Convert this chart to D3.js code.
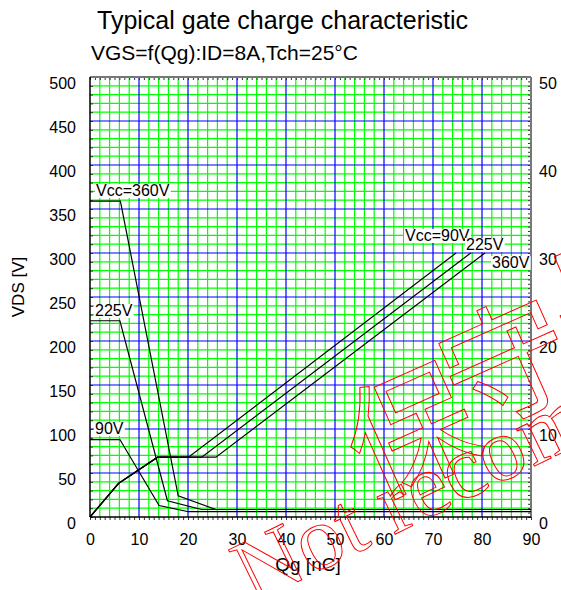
<!DOCTYPE html>
<html>
<head>
<meta charset="utf-8">
<script src="https://cdn.jsdelivr.net/npm/d3@7"></script>
<style>
body{margin:0;background:#fff}
svg{display:block}
</style>
</head>
<body>
<svg id="chart"></svg>
<script>
// VDS curves (left axis, V) vs Qg (nC)
var qgVds90 = [0, 6.1, 14.1, 20.1, 90];
var vds90 = [88, 88, 13, 6, 6];
var qgVds225 = [0, 6.1, 15.8, 22.8, 90];
var vds225 = [223, 223, 18.5, 8.5, 8.5];
var qgVds360 = [0, 6.2, 18.0, 25.7, 90];
var vds360 = [359, 359, 24, 8.5, 8.5];

// VGS curves (right axis, V) vs Qg (nC)
var qgVgs90 = [0, 5.8, 13.8, 20.1, 74.7];
var vgs90 = [0, 3.8, 6.8, 6.8, 30];
var qgVgs225 = [0, 5.8, 13.8, 22.8, 77.7];
var vgs225 = [0, 3.8, 6.8, 6.8, 30];
var qgVgs360 = [0, 5.8, 13.8, 25.7, 80.6];
var vgs360 = [0, 3.8, 6.8, 6.8, 30];

var xTicks = [0, 10, 20, 30, 40, 50, 60, 70, 80, 90];
var yLeftTicks = [0, 50, 100, 150, 200, 250, 300, 350, 400, 450, 500];
var yRightTicks = [0, 10, 20, 30, 40, 50];

var svgWidth = 561, svgHeight = 590;
var pLeft = 90, pRight = 531, pTop = 77, pBottom = 517;

var svg = d3.select('#chart')
	.attr("width", svgWidth)
	.attr("height", svgHeight)
	.attr("font-family", "Liberation Sans, Arial, sans-serif");

var x = d3.scaleLinear().domain([0, 90]).range([pLeft, pRight]);
var yL = d3.scaleLinear().domain([0, 500]).range([pBottom, pTop]);
var yR = d3.scaleLinear().domain([0, 50]).range([pBottom, pTop]);

// grid - minor green, major blue
var grid = svg.append("g");
grid.selectAll(".vmin")
	.data(d3.range(0, 91, 2).filter(function(d){ return d % 10 != 0; }))
	.enter().append("line")
	.attr("x1", function(d){ return x(d); }).attr("x2", function(d){ return x(d); })
	.attr("y1", pTop).attr("y2", pBottom)
	.attr("stroke", "#00ff00").attr("stroke-width", 1.2);
grid.selectAll(".hmin")
	.data(d3.range(0, 501, 10).filter(function(d){ return d % 50 != 0; }))
	.enter().append("line")
	.attr("y1", function(d){ return yL(d); }).attr("y2", function(d){ return yL(d); })
	.attr("x1", pLeft).attr("x2", pRight)
	.attr("stroke", "#00ff00").attr("stroke-width", 1.2);
grid.selectAll(".vmaj")
	.data(xTicks.slice(1, -1))
	.enter().append("line")
	.attr("x1", function(d){ return x(d); }).attr("x2", function(d){ return x(d); })
	.attr("y1", pTop).attr("y2", pBottom)
	.attr("stroke", "#0000ff").attr("stroke-width", 1.2);
grid.selectAll(".hmaj")
	.data(yLeftTicks.slice(1, -1))
	.enter().append("line")
	.attr("y1", function(d){ return yL(d); }).attr("y2", function(d){ return yL(d); })
	.attr("x1", pLeft).attr("x2", pRight)
	.attr("stroke", "#0000ff").attr("stroke-width", 1.2);

// small tick marks
function plain(g){ g.select(".domain").remove(); g.selectAll("line").attr("stroke", "#333"); }
svg.append("g").attr("transform", "translate(0," + pTop + ")")
	.call(d3.axisBottom(x).tickValues(d3.range(0, 91, 1)).tickSize(3).tickFormat(""))
	.call(plain);
svg.append("g").attr("transform", "translate(0," + pBottom + ")")
	.call(d3.axisBottom(x).tickValues(d3.range(0, 91, 1)).tickSize(3).tickFormat(""))
	.call(plain);
svg.append("g").attr("transform", "translate(" + pRight + ",0)")
	.call(d3.axisLeft(yR).tickValues(d3.range(0, 50.1, 0.5)).tickSize(3).tickFormat(""))
	.call(plain);
svg.append("g").attr("transform", "translate(" + pLeft + ",0)")
	.call(d3.axisRight(yL).tickValues(d3.range(0, 501, 10)).tickSize(3).tickFormat(""))
	.call(plain);

// frame
svg.append("line").attr("x1", pLeft).attr("x2", pRight).attr("y1", pTop).attr("y2", pTop)
	.attr("stroke", "#777").attr("stroke-width", 2);
svg.append("line").attr("x1", pRight).attr("x2", pRight).attr("y1", pTop).attr("y2", pBottom)
	.attr("stroke", "#777").attr("stroke-width", 2);
svg.append("line").attr("x1", pLeft).attr("x2", pLeft).attr("y1", pTop).attr("y2", pBottom)
	.attr("stroke", "#000").attr("stroke-width", 1.5);
svg.append("line").attr("x1", pLeft).attr("x2", pRight).attr("y1", pBottom).attr("y2", pBottom)
	.attr("stroke", "#000").attr("stroke-width", 1.5);

// tick labels
function labels(g){
	g.select(".domain").remove();
	g.selectAll("text").attr("font-size", 16).attr("font-family", "Liberation Sans, Arial, sans-serif").attr("fill", "#000");
}
svg.append("g").attr("transform", "translate(" + pLeft + ",0)")
	.call(d3.axisLeft(yL).tickValues(yLeftTicks).tickSize(0).tickPadding(14))
	.call(labels)
	.call(function(g){ g.selectAll("text").attr("y", 6); });
svg.append("g").attr("transform", "translate(" + pRight + ",0)")
	.call(d3.axisRight(yR).tickValues(yRightTicks).tickSize(0).tickPadding(8))
	.call(labels)
	.call(function(g){ g.selectAll("text").attr("y", 6); });
svg.append("g").attr("transform", "translate(0," + pBottom + ")")
	.call(d3.axisBottom(x).tickValues(xTicks).tickSize(0).tickPadding(17))
	.call(labels);

// curves
var line = d3.line().x(function(d){ return x(d[0]); });
function drawCurve(qg, v, scale){
	svg.append("path")
		.datum(d3.zip(qg, v))
		.attr("d", line.y(function(d){ return scale(d[1]); }))
		.attr("fill", "none")
		.attr("stroke", "#000")
		.attr("stroke-width", 1.2);
}
drawCurve(qgVds90, vds90, yL);
drawCurve(qgVds225, vds225, yL);
drawCurve(qgVds360, vds360, yL);
drawCurve(qgVgs90, vgs90, yR);
drawCurve(qgVgs225, vgs225, yR);
drawCurve(qgVgs360, vgs360, yR);

// curve labels with white boxes
function label(txt, lx, ly){
	var t = svg.append("text").attr("x", lx).attr("y", ly)
		.attr("font-size", 16).text(txt);
	var b = t.node().getBBox();
	svg.insert("rect", function(){ return t.node(); })
		.attr("x", b.x - 1).attr("y", b.y + 2).attr("width", b.width + 2).attr("height", b.height - 3)
		.attr("fill", "#fff");
}
label("Vcc=360V", 96, 196);
label("225V", 95, 316);
label("90V", 95, 434);
label("Vcc=90V", 405, 241);
label("225V", 466, 250);
label("360V", 492, 268);

// titles
svg.append("text").attr("x", 97).attr("y", 29).attr("font-size", 25)
	.text("Typical gate charge characteristic");
svg.append("text").attr("x", 91).attr("y", 60).attr("font-size", 21)
	.text("VGS=f(Qg):ID=8A,Tch=25°C");
svg.append("text").attr("x", 308).attr("y", 571).attr("font-size", 19)
	.attr("text-anchor", "middle").text("Qg [nC]");
svg.append("text").attr("transform", "translate(24,287) rotate(-90)")
	.attr("font-size", 17).attr("text-anchor", "middle").text("VDS [V]");

// watermark
svg.append("text")
	.attr("transform", "translate(252,604) rotate(-26)")
	.attr("font-family", "Liberation Serif, DejaVu Serif, serif")
	.attr("font-size", 90)
	.attr("fill", "none").attr("stroke", "#ff0000").attr("stroke-width", 1)
	.text("Not recommended");
var kanji = [["保", 407, 423], ["守", 503, 356], ["品", 605, 285]];
kanji.forEach(function(k){
	svg.append("text")
		.attr("transform", "translate(" + k[1] + "," + k[2] + ") rotate(-24)")
		.attr("font-family", "Noto Sans CJK JP")
		.attr("font-size", 128).attr("text-anchor", "middle").attr("dominant-baseline", "central")
		.attr("fill", "none").attr("stroke", "#ff0000").attr("stroke-width", 1)
		.text(k[0]);
});
</script>
</body>
</html>
